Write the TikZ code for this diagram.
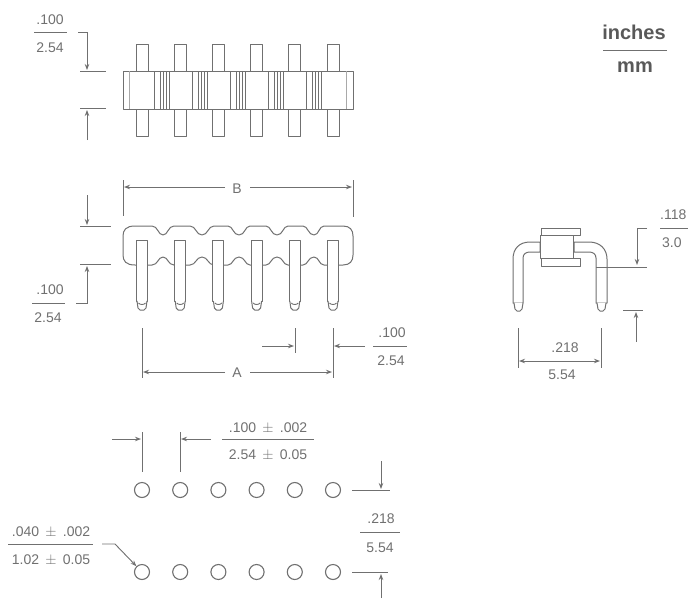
\documentclass[tikz,border=0pt]{standalone}
\usepackage{fontspec}
\setmainfont{Liberation Sans}
\usetikzlibrary{arrows.meta}
\definecolor{ink}{HTML}{707070}
\definecolor{txt}{HTML}{707070}
\tikzset{
  part/.style={draw=ink,line width=1pt,fill=white,line join=round},
  dimline/.style={draw=ink,line width=0.9pt},
  arr/.style={dimline,-{Stealth[length=6pt,width=4.5pt]}},
  darr/.style={dimline,{Stealth[length=6pt,width=4.5pt]}-{Stealth[length=6pt,width=4.5pt]}},
  lab/.style={inner sep=0pt,text=txt,font=\fontsize{14}{16}\selectfont},
  head/.style={inner sep=0pt,text=black!65,font=\fontsize{20}{22}\selectfont\bfseries},
  hole/.style={circle,draw=ink,line width=1.1pt,minimum size=15pt,inner sep=0pt}
}
\begin{document}
\begin{tikzpicture}[x=1pt,y=-1pt]
\useasboundingbox (0,0) rectangle (688,598);
% legend
\node[head] (hinch) at (634,32) {inches};
\node[head] (hmm) at (635,67) {mm};
\draw[dimline] (603,50) -- (667,50);
% ---------- top view
\foreach \x in {142,180.2,218.4,256.6,294.8,333}{
  \draw[part] (\x-6,71) -- (\x-6,44) -- (\x+6,44) -- (\x+6,71);
  \draw[part] (\x-6,109) -- (\x-6,136) -- (\x+6,136) -- (\x+6,109);
}
\draw[part] (123,71) rectangle (353,109);
\draw[dimline,ink!60] (129,71) -- (129,109) (346,71) -- (346,109);
\foreach \i in {0,...,4}{
  \pgfmathsetmacro{\d}{38.2*\i}
  \foreach \x in {154,160,163,166,169}{
    \draw[dimline] (\x+\d,71) -- (\x+\d,109);
  }
}
\node[lab] (a1) at (50,20) {.100};
\node[lab] (a2) at (50,48) {2.54};
\draw[dimline] (34,32) -- (67,32);
\draw[arr] (78,32) -- (87,32) -- (87,70);
\draw[dimline] (80,71) -- (106,71) (80,108) -- (106,108);
\draw[arr] (87,140) -- (87,110);
% ---------- front view
\draw[part] (135,226) -- (152,226) .. controls (158,226) and (158,235) .. (163,235)
  .. controls (168,235) and (168,226) .. (174,226) -- (190,226)
  .. controls (196,226) and (196,235) .. (202,235)
  .. controls (208,235) and (208,226) .. (214,226) -- (228,226)
  .. controls (233,226) and (233,235) .. (239,235)
  .. controls (245,235) and (245,226) .. (250,226) -- (266,226)
  .. controls (271,226) and (271,235) .. (277,235)
  .. controls (283,235) and (283,226) .. (288,226) -- (303,226)
  .. controls (308,226) and (308,235) .. (314,235)
  .. controls (319,235) and (319,226) .. (324,226) -- (343,226)
  .. controls (350,226) and (353,230) .. (353,236) -- (353,255)
  .. controls (353,261) and (350,265) .. (343,265) -- (324,265)
  .. controls (319,265) and (319,257) .. (314,257)
  .. controls (308,257) and (308,265) .. (303,265) -- (288,265)
  .. controls (283,265) and (283,257) .. (277,257)
  .. controls (271,257) and (271,265) .. (266,265) -- (250,265)
  .. controls (245,265) and (245,257) .. (239,257)
  .. controls (233,257) and (233,265) .. (228,265) -- (214,265)
  .. controls (208,265) and (208,257) .. (202,257)
  .. controls (196,257) and (196,265) .. (190,265) -- (174,265)
  .. controls (168,265) and (168,257) .. (163,257)
  .. controls (158,257) and (158,265) .. (152,265) -- (135,265)
  .. controls (126,265) and (123,261) .. (123,255) -- (123,236)
  .. controls (123,230) and (126,226) .. (135,226) -- cycle;
\foreach \x in {142,180.2,218.4,256.6,294.8,333}{
  \draw[part] (\x-5.5,240) rectangle (\x+5.5,301);
  \draw[part] (\x-5,301) -- (\x-4,308) -- (\x-2,310) -- (\x+2,310) -- (\x+4,308) -- (\x+5,301);
  \draw[dimline] (\x-3.5,303) .. controls (\x-2,305) and (\x+2,305) .. (\x+3.5,303);
}
\draw[dimline] (123,180) -- (123,216) (353,180) -- (353,217);
\draw[arr] (225,187) -- (124,187);
\draw[arr] (250,187) -- (352,187);
\node[lab] (b) at (237,189) {B};
\draw[arr] (87,195) -- (87,225);
\draw[dimline] (80,226) -- (111,226) (80,264) -- (111,264);
\draw[arr] (76,303) -- (87,303) -- (87,266);
\node[lab] (a3) at (50,290) {.100};
\node[lab] (a4) at (48,318) {2.54};
\draw[dimline] (32,303) -- (65,303);
\draw[dimline] (142,328) -- (142,378) (333,328) -- (333,378) (295,328) -- (295,353);
\draw[arr] (225,372) -- (143,372);
\draw[arr] (250,372) -- (332,372);
\node[lab] (c) at (237,373) {A};
\draw[arr] (262,346) -- (294,346);
\draw[arr] (365,346) -- (334,346);
\node[lab] (a5) at (392,333) {.100};
\node[lab] (a6) at (391,361) {2.54};
\draw[dimline] (373,346) -- (407,346);
% ---------- side view
\draw[part] (518,303) -- (523,303) -- (523,258) .. controls (523,254) and (526,252) .. (530,252) -- (540,252)
  -- (540,242) -- (530,242) .. controls (519,242) and (513,249) .. (513,259) -- (513,303) -- (518,303);
\draw[part] (602,303) -- (596,303) -- (596,258) .. controls (596,254) and (593,252) .. (589,252) -- (574,252)
  -- (574,242) -- (589,242) .. controls (600,242) and (607,249) .. (607,259) -- (607,303) -- (602,303);
\draw[part] (514,303) -- (515,309) -- (517,311) -- (520,311) -- (522,309) -- (523,303);
\draw[part] (597,303) -- (598,309) -- (600,311) -- (603,311) -- (605,309) -- (606,303);
\draw[part] (541,228) rectangle (580,235);
\draw[part] (541,258) rectangle (580,266);
\draw[part] (540,235) rectangle (573,258);
\draw[dimline] (596,267) -- (647,267);
\draw[arr] (647,228) -- (637,228) -- (637,265);
\node[lab,anchor=west] (a7) at (660,215) {.118};
\node[lab,anchor=west] (a8) at (662,243) {3.0};
\draw[dimline] (660,228) -- (688,228);
\draw[dimline] (623,310) -- (643,310);
\draw[arr] (636,342) -- (636,312);
\draw[dimline] (518,328) -- (518,368) (601,328) -- (601,368);
\draw[darr] (519,361) -- (600,361);
\node[lab] (a9) at (565,348) {.218};
\node[lab] (a10) at (562,375) {5.54};
% ---------- holes
\foreach \x [count=\n] in {142,180.2,218.4,256.6,294.8,333}{
  \node[hole] (u\n) at (\x,490) {};
  \node[hole] (l\n) at (\x,572) {};
}
\draw[dimline] (142,432) -- (142,472) (180,432) -- (180,472);
\draw[arr] (112,439) -- (141,439);
\draw[arr] (211,439) -- (181,439);
\node[lab] (p1) at (268,428) {.100 $\,\pm\,$ .002};
\node[lab] (p2) at (268,455) {2.54 $\,\pm\,$ 0.05};
\draw[dimline] (222,439) -- (314,439);
\draw[dimline] (352,490) -- (390,490) (352,572) -- (388,572);
\draw[arr] (381,461) -- (381,489);
\draw[arr] (381,598) -- (381,574);
\node[lab] (p3) at (381,519) {.218};
\node[lab] (p4) at (380,548) {5.54};
\draw[dimline] (360,532) -- (400,532);
\node[lab] (p5) at (51,532) {.040 $\,\pm\,$ .002};
\node[lab] (p6) at (51,560) {1.02 $\,\pm\,$ 0.05};
\draw[dimline] (8,544) -- (93,544);
\draw[arr] (102,544) -- (115,544) -- (l1);
\end{tikzpicture}
\end{document}
